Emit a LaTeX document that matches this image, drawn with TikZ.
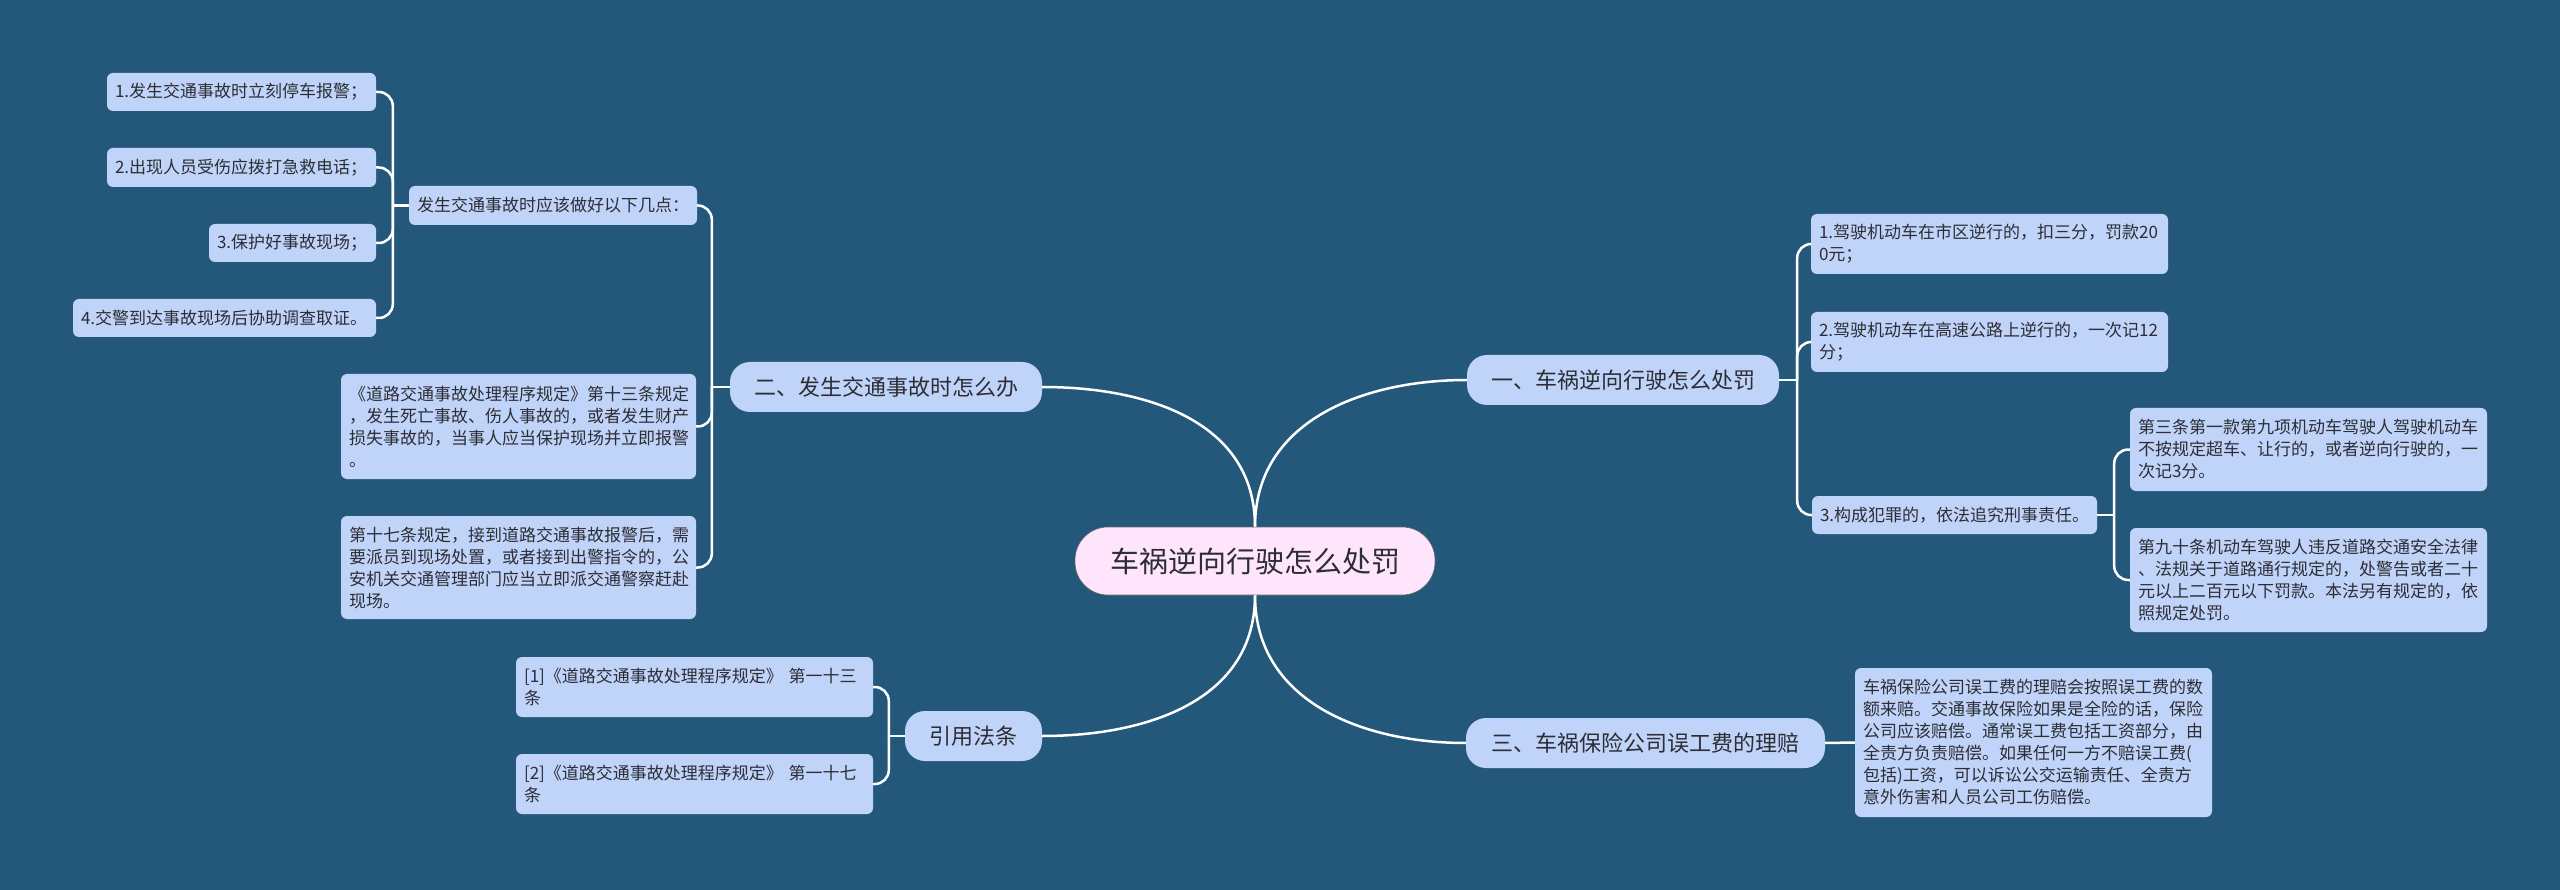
\documentclass[tikz,border=0pt]{standalone}
\usepackage{fontspec}
\setmainfont{Noto Sans CJK SC}
\definecolor{bg}{RGB}{36,88,123}
\definecolor{boxfill}{RGB}{192,212,250}
\definecolor{rootfill}{RGB}{255,229,251}
\definecolor{ink}{RGB}{45,45,52}
\tikzset{
  leaf/.style={fill=boxfill, rounded corners=6pt, text=ink, font=\fontsize{17}{22}\selectfont,
    align=left, inner xsep=8pt, inner ysep=0pt},
  topic/.style={fill=boxfill, rounded corners=20pt, text=ink, font=\fontsize{22}{26}\selectfont,
    minimum height=50pt, inner xsep=0pt, inner ysep=0pt},
  rootnode/.style={fill=rootfill, draw=black!60, line width=0.6pt, rounded corners=33pt, text=ink,
    font=\fontsize{29}{34}\selectfont, minimum height=68pt, minimum width=360pt, inner sep=0pt},
  conn/.style={draw=white, line width=2.5pt},
  brk/.style={draw=white, line width=2.5pt, rounded corners=14pt}
}
\begin{document}
\begin{tikzpicture}[x=1pt,y=-1pt]
\fill[bg] (0,0) rectangle (2560,890);
\useasboundingbox (0,0) rectangle (2560,890);

% root
\node[rootnode] (root) at (1255,561) {车祸逆向行驶怎么处罚};

% level-1 topics
\node[topic, minimum width=312pt] (t2) at (886,387) {二、发生交通事故时怎么办};
\node[topic, minimum width=137pt] (tr) at (973.5,736) {引用法条};
\node[topic, minimum width=312pt] (t1) at (1623,380) {一、车祸逆向行驶怎么处罚};
\node[topic, minimum width=359pt] (t3) at (1645.5,743) {三、车祸保险公司误工费的理赔};

% left branch: 二
\node[leaf, text width=272pt, minimum height=39pt] (sub) at (553,205.5) {发生交通事故时应该做好以下几点：};
\node[leaf, text width=253pt, minimum height=38pt] (s1) at (241.5,92) {1.发生交通事故时立刻停车报警；};
\node[leaf, text width=253pt, minimum height=39pt] (s2) at (241.5,167.5) {2.出现人员受伤应拨打急救电话；};
\node[leaf, text width=151pt, minimum height=38pt] (s3) at (292.5,243) {3.保护好事故现场；};
\node[leaf, text width=287pt, minimum height=38pt] (s4) at (224.5,318) {4.交警到达事故现场后协助调查取证。};
\node[leaf, text width=339pt, minimum height=105pt] (bA) at (518.5,426.5) {《道路交通事故处理程序规定》第十三条规定\\，发生死亡事故、伤人事故的，或者发生财产\\损失事故的，当事人应当保护现场并立即报警\\。};
\node[leaf, text width=339pt, minimum height=103pt] (bB) at (518.5,567.5) {第十七条规定，接到道路交通事故报警后，需\\要派员到现场处置，或者接到出警指令的，公\\安机关交通管理部门应当立即派交通警察赶赴\\现场。};

% left branch: 引用法条
\node[leaf, text width=341pt, minimum height=60pt] (r1) at (694.5,687) {[1]《道路交通事故处理程序规定》~第一十三\\条};
\node[leaf, text width=341pt, minimum height=60pt] (r2) at (694.5,784) {[2]《道路交通事故处理程序规定》~第一十七\\条};

% right branch: 一
\node[leaf, text width=341pt, minimum height=60pt] (i1) at (1989.5,244) {1.驾驶机动车在市区逆行的，扣三分，罚款20\\0元；};
\node[leaf, text width=341pt, minimum height=60pt] (i2) at (1989.5,342) {2.驾驶机动车在高速公路上逆行的，一次记12\\分；};
\node[leaf, text width=269pt, minimum height=38pt] (i3) at (1954.5,515) {3.构成犯罪的，依法追究刑事责任。};
\node[leaf, text width=341pt, minimum height=83pt] (c3) at (2308.5,449.5) {第三条第一款第九项机动车驾驶人驾驶机动车\\不按规定超车、让行的，或者逆向行驶的，一\\次记3分。};
\node[leaf, text width=341pt, minimum height=104pt] (c90) at (2308.5,580) {第九十条机动车驾驶人违反道路交通安全法律\\、法规关于道路通行规定的，处警告或者二十\\元以上二百元以下罚款。本法另有规定的，依\\照规定处罚。};

% right branch: 三
\node[leaf, text width=341pt, minimum height=149pt] (b3) at (2033.5,742.5) {车祸保险公司误工费的理赔会按照误工费的数\\额来赔。交通事故保险如果是全险的话，保险\\公司应该赔偿。通常误工费包括工资部分，由\\全责方负责赔偿。如果任何一方不赔误工费(\\包括)工资，可以诉讼公交运输责任、全责方\\意外伤害和人员公司工伤赔偿。};

% root connectors
\draw[conn] (root.north) .. controls +(0,-105) and +(105,0) .. (t2.east);
\draw[conn] (root.north) .. controls +(0,-105) and +(-105,0) .. (t1.west);
\draw[conn] (root.south) .. controls +(0,105) and +(105,0) .. (tr.east);
\draw[conn] (root.south) .. controls +(0,105) and +(-105,0) .. (t3.west);

% 二 bracket
\coordinate (j2) at ([xshift=-18pt]t2.west);
\draw[conn] (t2.west) -- (j2);
\draw[brk] (j2) |- (sub.east);
\draw[brk] (j2) |- (bA.east);
\draw[brk] (j2) |- (bB.east);

% sub bracket
\coordinate (js) at ([xshift=-16pt]sub.west);
\draw[conn] (sub.west) -- (js);
\draw[brk] (js) |- (s1.east);
\draw[brk] (js) |- (s2.east);
\draw[brk] (js) |- (s3.east);
\draw[brk] (js) |- (s4.east);

% 引用 bracket
\coordinate (jr) at ([xshift=-16pt]tr.west);
\draw[conn] (tr.west) -- (jr);
\draw[brk] (jr) |- (r1.east);
\draw[brk] (jr) |- (r2.east);

% 一 bracket
\coordinate (j1) at ([xshift=18pt]t1.east);
\draw[conn] (t1.east) -- (j1);
\draw[brk] (j1) |- (i1.west);
\draw[brk] (j1) |- (i2.west);
\draw[brk] (j1) |- (i3.west);

% item3 bracket
\coordinate (j3) at ([xshift=17pt]i3.east);
\draw[conn] (i3.east) -- (j3);
\draw[brk] (j3) |- (c3.west);
\draw[brk] (j3) |- (c90.west);

% 三 link
\draw[conn] (t3.east) -- (b3.west);
\end{tikzpicture}
\end{document}
